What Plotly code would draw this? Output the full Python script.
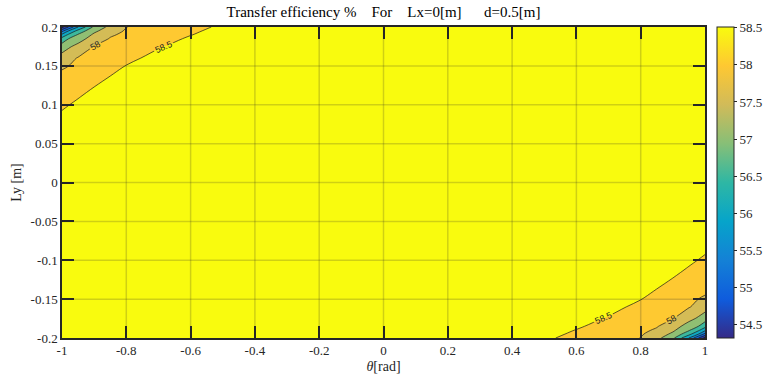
import plotly.graph_objects as go

# ---------------- data ----------------
# top-left corner block of the efficiency map; the map is point-symmetric:
# eff(theta, Ly) == eff(-theta, -Ly), so the bottom-right block mirrors it.
theta_corner = [-1.0, -0.98, -0.95, -0.9, -0.85, -0.8, -0.7, -0.6, -0.5, -0.4]
ly_corner = [0.04, 0.08, 0.11, 0.14, 0.16, 0.175, 0.185, 0.19, 0.195, 0.2]
eff_corner = [
    [58.97, 59.03, 59.12, 59.28, 59.45, 59.50, 59.50, 59.50, 59.50, 59.50],  # Ly=0.04
    [58.61, 58.67, 58.75, 58.91, 59.06, 59.22, 59.37, 59.40, 59.48, 59.50],  # 0.08
    [58.35, 58.40, 58.48, 58.62, 58.76, 58.92, 59.08, 59.16, 59.25, 59.37],  # 0.11
    [58.09, 58.13, 58.21, 58.34, 58.47, 58.61, 58.80, 58.91, 59.02, 59.15],  # 0.14
    [57.72, 57.86, 58.03, 58.15, 58.27, 58.41, 58.61, 58.74, 58.86, 58.99],  # 0.16
    [57.23, 57.42, 57.65, 58.01, 58.13, 58.26, 58.47, 58.62, 58.75, 58.88],  # 0.175
    [56.67, 56.99, 57.27, 57.74, 58.03, 58.15, 58.38, 58.54, 58.67, 58.81],  # 0.185
    [56.12, 56.58, 57.05, 57.59, 57.94, 58.10, 58.33, 58.49, 58.63, 58.77],  # 0.19
    [55.33, 55.99, 56.67, 57.39, 57.79, 58.05, 58.28, 58.45, 58.59, 58.73],  # 0.195
    [54.32, 54.99, 55.99, 57.11, 57.65, 57.99, 58.24, 58.41, 58.55, 58.69],  # 0.2
]
plateau_eff = 59.5          # flat interior (above the top contour level)

color_min = 54.32
color_max = 58.51
level_start, level_end, level_step = 54.5, 58.5, 0.5

x_tickvals = [-1, -0.8, -0.6, -0.4, -0.2, 0, 0.2, 0.4, 0.6, 0.8, 1]
x_ticktext = ["-1", "-0.8", "-0.6", "-0.4", "-0.2", "0", "0.2", "0.4", "0.6", "0.8", "1"]
y_tickvals = [-0.2, -0.15, -0.1, -0.05, 0, 0.05, 0.1, 0.15, 0.2]
y_ticktext = ["-0.2", "-0.15", "-0.1", "-0.05", "0", "0.05", "0.1", "0.15", "0.2"]
cb_tickvals = [54.5, 55, 55.5, 56, 56.5, 57, 57.5, 58, 58.5]
cb_ticktext = ["54.5", "55", "55.5", "56", "56.5", "57", "57.5", "58", "58.5"]

# ---------------- build the full grid table ----------------
theta_full = theta_corner + [0.0] + [-t for t in reversed(theta_corner)]
ly_full = [-v for v in reversed(ly_corner)] + [0.0] + ly_corner
nx, ny = len(theta_full), len(ly_full)
nc = len(theta_corner)
z = [[plateau_eff] * nx for _ in range(ny)]
for i in range(len(ly_corner)):
    for j in range(nc):
        z[nc + 1 + i][j] = eff_corner[i][j]
        z[nc - 1 - i][nx - 1 - j] = eff_corner[i][j]

# parula colormap
parula = [
    [0.0, "#352A87"], [0.125, "#0F5CDD"], [0.25, "#1481D6"], [0.375, "#06A4CA"],
    [0.5, "#2EB7A4"], [0.625, "#87BF77"], [0.75, "#D1BB59"], [0.875, "#FEC832"],
    [1.0, "#F9FB0E"],
]
# flat band colours (MATLAB contourf: band coloured by its lower level)
band_hex = ["#352A87", "#283BA5", "#1067DB", "#108AD3", "#0EA8C2",
            "#3CB89D", "#90BF73", "#D4BC56", "#FEC931", "#F9FB0E"]
nb = len(band_hex) - 1
band_scale = [[k / nb, c] for k, c in enumerate(band_hex)]

FONT = "Liberation Serif, Times New Roman, serif"
TXT = "#262626"

fig = go.Figure()
fig.add_trace(go.Contour(
    x=theta_full, y=ly_full, z=z,
    colorscale=band_scale, showscale=False,
    contours=dict(start=level_start, end=level_end, size=level_step,
                  coloring="fill", showlabels=True,
                  labelfont=dict(family="Liberation Sans, Arial, sans-serif", size=9, color="#222")),
    line=dict(color="#1a1a1a", width=0.7),
    hoverinfo="skip",
))
# continuous colour bar
fig.add_trace(go.Scatter(
    x=[None, None], y=[None, None], mode="markers", showlegend=False,
    marker=dict(color=[color_min, color_max], cmin=color_min, cmax=color_max,
                colorscale=parula, showscale=True,
                colorbar=dict(
                    x=1.0187, xanchor="left", xpad=0, ypad=0,
                    y=0.5, yanchor="middle", lenmode="pixels", len=311,
                    thicknessmode="pixels", thickness=17,
                    outlinewidth=1, outlinecolor="#262626",
                    tickmode="array", tickvals=cb_tickvals, ticktext=cb_ticktext,
                    ticks="outside", ticklen=3, tickcolor="#262626",
                    tickfont=dict(family=FONT, size=13, color=TXT),
                )),
))

# grid lines drawn above the filled contours (as in MATLAB)
shapes = []
for xv in x_tickvals[1:-1]:
    shapes.append(dict(type="line", xref="x", yref="paper", x0=xv, x1=xv, y0=0, y1=1,
                       layer="above", line=dict(color="rgba(38,38,38,0.2)", width=1.5)))
for yv in y_tickvals[1:-1]:
    shapes.append(dict(type="line", xref="paper", yref="y", x0=0, x1=1, y0=yv, y1=yv,
                       layer="above", line=dict(color="rgba(38,38,38,0.2)", width=1.5)))

sp = "\u00a0"
title = ("Transfer efficiency %" + sp * 4 + "For" + sp * 4 + "Lx=0[m]" + sp * 6 + "d=0.5[m]")

fig.update_layout(
    width=763, height=382,
    margin=dict(l=62, r=58, t=27, b=44, autoexpand=False),
    font=dict(family=FONT, color=TXT),
    paper_bgcolor="white", plot_bgcolor="white",
    shapes=shapes,
    title=dict(text=title, x=0.5, xref="paper", xanchor="center",
               y=1 - 12 / 382, yanchor="middle",
               font=dict(family=FONT, size=15, color="#000")),
    xaxis=dict(range=[-1, 1], tickmode="array", tickvals=x_tickvals, ticktext=x_ticktext,
               showgrid=False, zeroline=False, showline=True, mirror="ticks",
               linecolor="#262626", linewidth=1.5,
               ticks="inside", ticklen=12, tickwidth=2, tickcolor="#262626",
               layer="above traces", automargin=False,
               tickfont=dict(family=FONT, size=13, color=TXT),
               title=dict(text="<i>θ</i>[rad]", standoff=4,
                          font=dict(family=FONT, size=14, color=TXT))),
    yaxis=dict(range=[-0.2, 0.2], tickmode="array", tickvals=y_tickvals, ticktext=y_ticktext,
               showgrid=False, zeroline=False, showline=True, mirror="ticks",
               linecolor="#262626", linewidth=1.5,
               ticks="inside", ticklen=12, tickwidth=2, tickcolor="#262626",
               layer="above traces", automargin=False,
               tickfont=dict(family=FONT, size=13, color=TXT),
               title=dict(text="Ly [m]", standoff=6,
                          font=dict(family=FONT, size=14, color=TXT))),
)

fig.write_html("out.html",
               config={"displayModeBar": False},
               post_script="document.body.style.margin='0';document.body.style.overflow='hidden';")
